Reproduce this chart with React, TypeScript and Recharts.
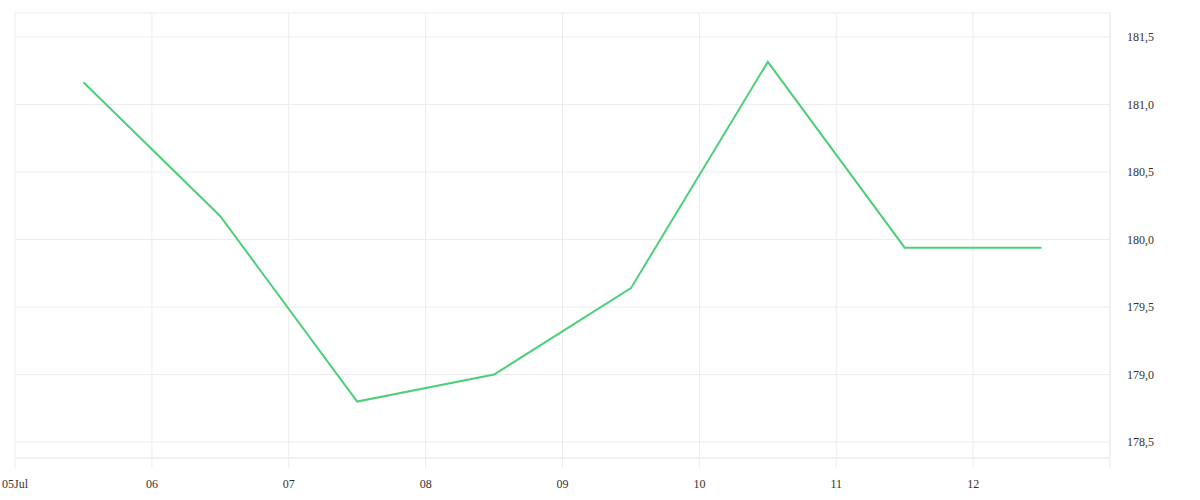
import { LineChart, Line, XAxis, YAxis, CartesianGrid } from 'recharts';

// days of July, points sit at the middle of each day
const days = [5.5, 6.5, 7.5, 8.5, 9.5, 10.5, 11.5, 12.5];
const prices = [181.165, 180.173, 178.8, 179.0, 179.64, 181.316, 179.94, 179.94];

const dayTicks = [5, 6, 7, 8, 9, 10, 11, 12, 13];
const priceTicks = [178.5, 179.0, 179.5, 180.0, 180.5, 181.0, 181.5];

const data = days.map((d, i) => ({ day: d, price: prices[i] }));

const gridColor = '#ececec';
const textColor = '#333';

const formatDay = (v: number) => {
  if (v === 13) return '';
  const s = String(v).padStart(2, '0');
  return v === 5 ? `${s}Jul` : s;
};

const formatPrice = (v: number) => v.toFixed(1).replace('.', ',');

export default function App() {
  return (
    <div style={{ position: 'absolute', left: 0, top: 0 }}>
      <LineChart width={1200} height={500} data={data} margin={{ top: 13, right: 0, left: 15, bottom: 0 }}>
        <CartesianGrid stroke={gridColor} horizontal vertical />
        <XAxis
          dataKey="day"
          type="number"
          domain={[5, 13]}
          ticks={dayTicks}
          tickFormatter={formatDay}
          height={42}
          axisLine={{ stroke: gridColor }}
          tickLine={{ stroke: gridColor }}
          tickSize={10}
          tickMargin={11}
          tick={{ fill: textColor, fontSize: 12 }}
          interval={0}
        />
        <YAxis
          orientation="right"
          type="number"
          domain={[178.382, 181.678]}
          ticks={priceTicks}
          allowDataOverflow
          tickFormatter={formatPrice}
          width={90}
          axisLine={{ stroke: gridColor }}
          tickLine={false}
          tickSize={0}
          tickMargin={17}
          tick={{ fill: textColor, fontSize: 12 }}
          interval={0}
        />
        <Line
          type="linear"
          dataKey="price"
          stroke="#4ccf78"
          strokeWidth={2}
          dot={false}
          activeDot={false}
          isAnimationActive={false}
        />
      </LineChart>
    </div>
  );
}
